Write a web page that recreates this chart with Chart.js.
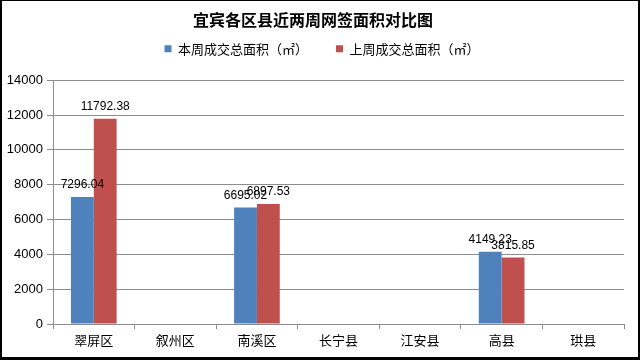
<!DOCTYPE html>
<html>
<head>
<meta charset="utf-8">
<script src="https://cdn.jsdelivr.net/npm/chart.js@4/dist/chart.umd.min.js"></script>
<style>
  html, body { margin: 0; padding: 0; background: #fff; }
  #wrap {
    width: 636px; height: 356px;
    border-left: 2px solid #000; border-right: 2px solid #000;
    border-top: 1px solid #000; border-bottom: 3px solid #000;
  }
  canvas { display: block; }
</style>
</head>
<body>
<div id="wrap"><canvas id="chart" width="636" height="356"></canvas></div>
<script>
const districts = ["翠屏区", "叙州区", "南溪区", "长宁县", "江安县", "高县", "珙县"];
const thisWeek = [7296.04, null, 6695.02, null, null, 4149.23, null];
const lastWeek = [11792.38, null, 6897.53, null, null, 3815.85, null];
const yTicks = [0, 2000, 4000, 6000, 8000, 10000, 12000, 14000];

const cjk = "'Noto Sans CJK SC', 'Liberation Sans', sans-serif";
const latin = "'Liberation Sans', Arial, sans-serif";

// labels above each bar
const barLabels = {
  id: "barLabels",
  afterDatasetsDraw(chart) {
    const ctx = chart.ctx;
    ctx.save();
    ctx.font = "12px " + latin;
    ctx.fillStyle = "#000";
    ctx.textAlign = "center";
    ctx.textBaseline = "bottom";
    chart.data.datasets.forEach((ds, i) => {
      chart.getDatasetMeta(i).data.forEach((bar, j) => {
        const v = ds.data[j];
        if (v == null) return;
        ctx.fillText(v.toFixed(2), bar.x, bar.y - 6);
      });
    });
    ctx.restore();
  }
};

// extra room under the legend, and nudge it right a little
const legendGap = {
  id: "legendGap",
  beforeInit(chart) {
    const fit = chart.legend.fit;
    chart.legend.fit = function () {
      fit.bind(chart.legend)();
      this.height += 15;
    };
  },
  afterLayout(chart) {
    chart.legend.left += 9;
    chart.legend.right += 9;
  }
};

new Chart(document.getElementById("chart"), {
  type: "bar",
  data: {
    labels: districts,
    datasets: [
      { label: "本周成交总面积（㎡）", data: thisWeek, backgroundColor: "#4F81BD" },
      { label: "上周成交总面积（㎡）", data: lastWeek, backgroundColor: "#C0504D" }
    ]
  },
  options: {
    responsive: false,
    animation: false,
    categoryPercentage: 0.56,
    barPercentage: 1,
    layout: { padding: { left: 0, right: 14, top: 0, bottom: 0 } },
    plugins: {
      title: {
        display: true,
        text: "宜宾各区县近两周网签面积对比图",
        color: "#000",
        font: { family: cjk, size: 16, weight: "bold" },
        padding: { top: 9, bottom: -15 }
      },
      legend: {
        position: "top",
        labels: {
          color: "#000",
          font: { family: cjk, size: 13 },
          boxWidth: 7,
          boxHeight: 7,
          padding: 28
        }
      },
      tooltip: { enabled: false }
    },
    scales: {
      x: {
        grid: { drawOnChartArea: false, offset: true, tickLength: 5, color: "#8c8c8c" },
        border: { color: "#8c8c8c" },
        ticks: { color: "#000", font: { family: cjk, size: 13 }, padding: 3 },
        afterFit(axis) { axis.height = 33; }
      },
      y: {
        min: 0,
        max: 14000,
        afterBuildTicks(axis) { axis.ticks = yTicks.map(v => ({ value: v })); },
        grid: { color: "#8c8c8c", tickLength: 6 },
        border: { color: "#8c8c8c" },
        ticks: {
          color: "#000",
          font: { family: latin, size: 13 },
          padding: 4,
          callback: v => String(v)
        },
        afterFit(axis) { axis.width = 51; }
      }
    }
  },
  plugins: [barLabels, legendGap]
});
</script>
</body>
</html>
